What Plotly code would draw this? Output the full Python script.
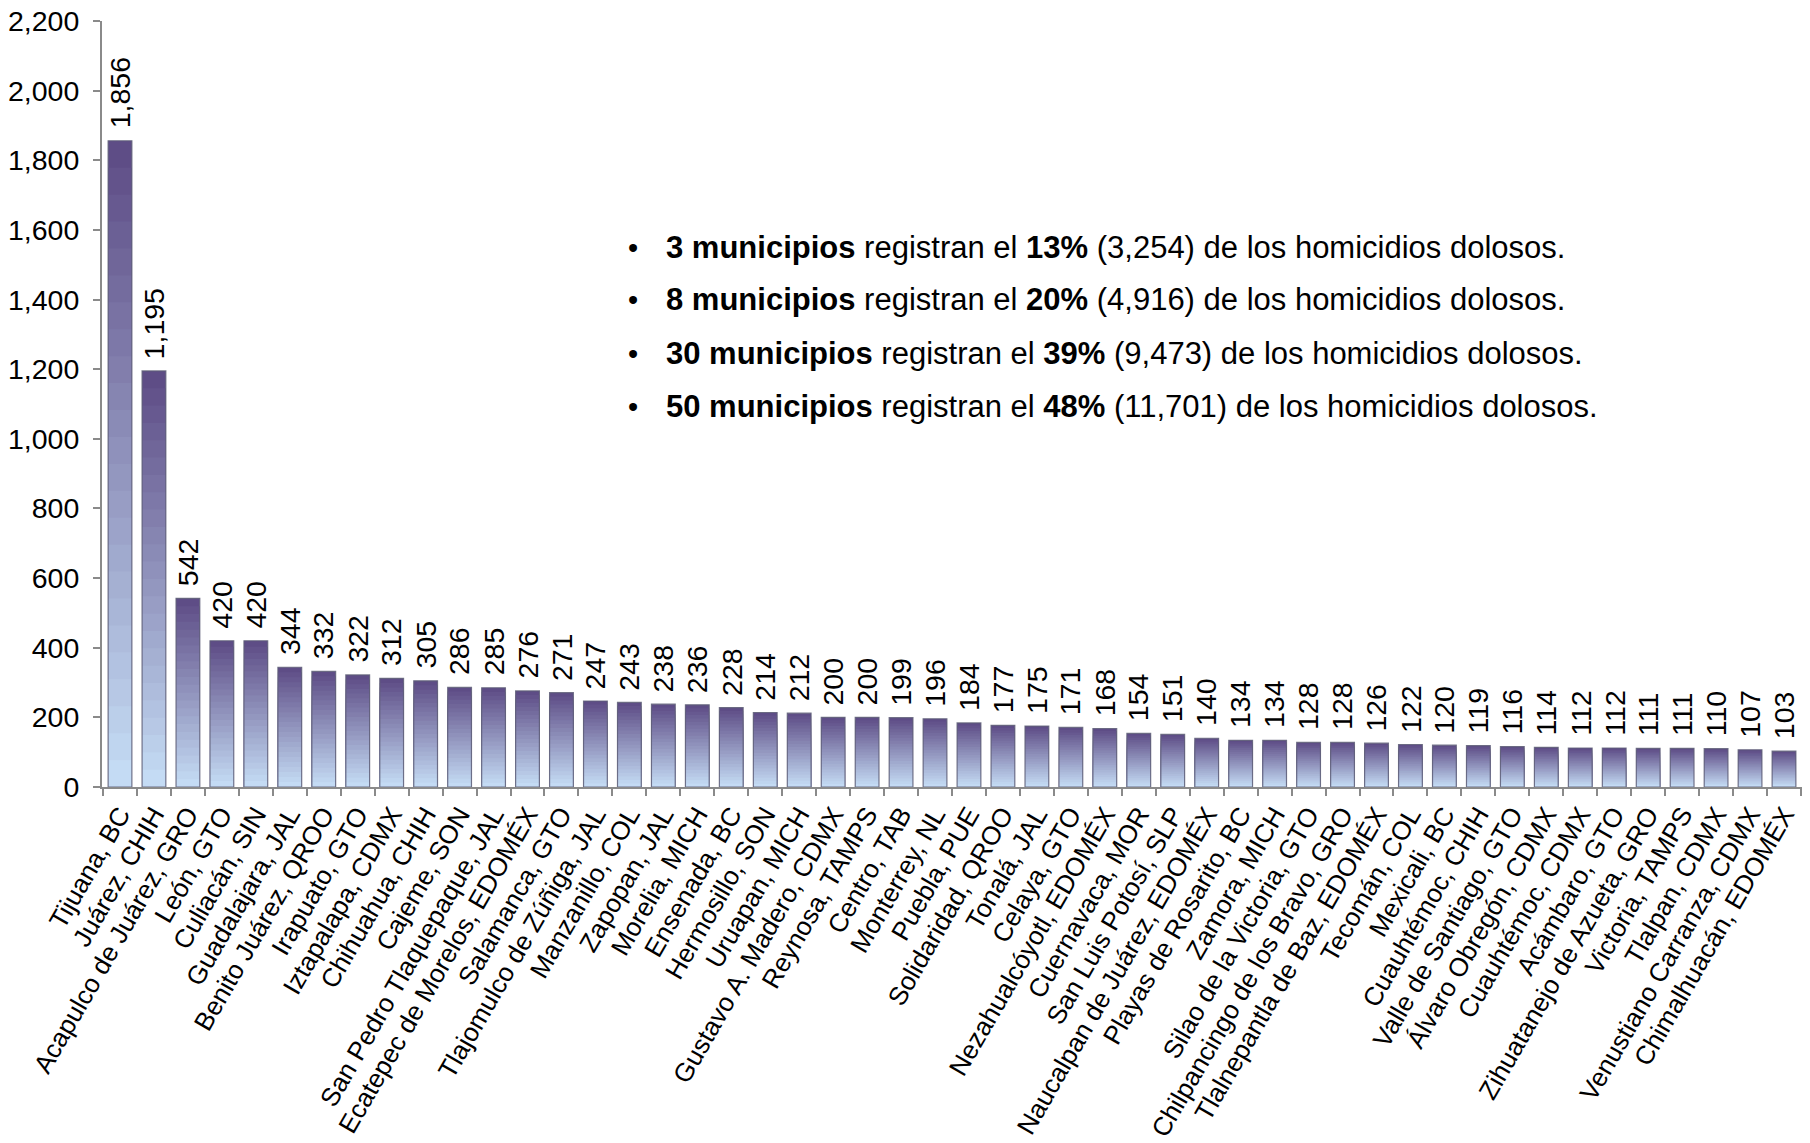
import plotly.graph_objects as go

municipios = [
    "Tijuana, BC", "Juárez, CHIH", "Acapulco de Juárez, GRO", "León, GTO", "Culiacán, SIN",
    "Guadalajara, JAL", "Benito Juárez, QROO", "Irapuato, GTO", "Iztapalapa, CDMX", "Chihuahua, CHIH",
    "Cajeme, SON", "San Pedro Tlaquepaque, JAL", "Ecatepec de Morelos, EDOMÉX", "Salamanca, GTO",
    "Tlajomulco de Zúñiga, JAL", "Manzanillo, COL", "Zapopan, JAL", "Morelia, MICH", "Ensenada, BC",
    "Hermosillo, SON", "Uruapan, MICH", "Gustavo A. Madero, CDMX", "Reynosa, TAMPS", "Centro, TAB",
    "Monterrey, NL", "Puebla, PUE", "Solidaridad, QROO", "Tonalá, JAL", "Celaya, GTO",
    "Nezahualcóyotl, EDOMÉX", "Cuernavaca, MOR", "San Luis Potosí, SLP", "Naucalpan de Juárez, EDOMÉX",
    "Playas de Rosarito, BC", "Zamora, MICH", "Silao de la Victoria, GTO", "Chilpancingo de los Bravo, GRO",
    "Tlalnepantla de Baz, EDOMÉX", "Tecomán, COL", "Mexicali, BC", "Cuauhtémoc, CHIH",
    "Valle de Santiago, GTO", "Álvaro Obregón, CDMX", "Cuauhtémoc, CDMX", "Acámbaro, GTO",
    "Zihuatanejo de Azueta, GRO", "Victoria, TAMPS", "Tlalpan, CDMX", "Venustiano Carranza, CDMX",
    "Chimalhuacán, EDOMÉX",
]

homicidios = [
    1856, 1195, 542, 420, 420, 344, 332, 322, 312, 305,
    286, 285, 276, 271, 247, 243, 238, 236, 228, 214,
    212, 200, 200, 199, 196, 184, 177, 175, 171, 168,
    154, 151, 140, 134, 134, 128, 128, 126, 122, 120,
    119, 116, 114, 112, 112, 111, 111, 110, 107, 103,
]

y_ticks = [0, 200, 400, 600, 800, 1000, 1200, 1400, 1600, 1800, 2000, 2200]

notas = [
    "<b>3 municipios</b> registran el <b>13%</b> (3,254) de los homicidios dolosos.",
    "<b>8 municipios</b> registran el <b>20%</b> (4,916) de los homicidios dolosos.",
    "<b>30 municipios</b> registran el <b>39%</b> (9,473) de los homicidios dolosos.",
    "<b>50 municipios</b> registran el <b>48%</b> (11,701) de los homicidios dolosos.",
]

FONT = "Liberation Sans, Arial, sans-serif"
TOP = (92, 74, 132)
BOTTOM = (198, 222, 246)
N_LAYERS = 24
BARGAP = 0.3

fig = go.Figure()

# Vertical gradient: overlaid bars, each a fraction of the data value
for k in range(N_LAYERS):
    frac = (N_LAYERS - k) / N_LAYERS
    t = (N_LAYERS - k - 0.5) / N_LAYERS
    c = tuple(round(BOTTOM[i] + (TOP[i] - BOTTOM[i]) * t) for i in range(3))
    fig.add_trace(go.Bar(
        x=municipios,
        y=[v * frac for v in homicidios],
        marker=dict(color=f"rgb{c}", line=dict(width=0)),
        hoverinfo="skip",
        showlegend=False,
    ))

# Outline
fig.add_trace(go.Bar(
    x=municipios,
    y=homicidios,
    marker=dict(color="rgba(0,0,0,0)", line=dict(color="rgba(95,95,120,0.85)", width=1.2)),
    showlegend=False,
))

# Data labels (rotated) above each bar
for m, v in zip(municipios, homicidios):
    fig.add_annotation(x=m, y=v, text=f"{v:,}", textangle=-90, showarrow=False,
                       xanchor="center", yanchor="bottom", yshift=10,
                       font=dict(family=FONT, size=28.5, color="#000000"))

for i, txt in enumerate(notas):
    ypos = [0.7037, 0.6358, 0.5653, 0.4961][i]
    fig.add_annotation(xref="paper", yref="paper", x=0.3121, y=ypos, text="•",
                       showarrow=False, xanchor="center", yanchor="middle",
                       font=dict(family=FONT, size=29, color="#000000"))
    fig.add_annotation(xref="paper", yref="paper", x=0.3306, y=ypos, text=txt,
                       showarrow=False, xanchor="left", yanchor="middle",
                       font=dict(family=FONT, size=31, color="#000000"))

fig.update_layout(
    width=1794, height=1127,
    barmode="overlay", bargap=BARGAP,
    plot_bgcolor="white", paper_bgcolor="white",
    margin=dict(l=94, r=0, t=13, b=348),
    font=dict(family=FONT, size=26, color="#000000"),
)
fig.update_xaxes(
    type="category", tickmode="linear", tick0=0, dtick=1,
    tickangle=-60, tickson="boundaries",
    ticks="outside", ticklen=7, tickwidth=2, tickcolor="#8a8a8a",
    showline=True, linecolor="#8a8a8a", linewidth=2,
    showgrid=False, automargin=False,
    tickfont=dict(family=FONT, size=26, color="#000000"),
)
fig.update_yaxes(
    range=[0, 2200], tickvals=y_ticks, tickformat=",",
    ticks="outside", ticklen=7, tickwidth=2, tickcolor="#8a8a8a",
    showline=True, linecolor="#8a8a8a", linewidth=2,
    showgrid=False, zeroline=False, automargin=False,
    ticklabelstandoff=8, ticklabeloverflow="allow",
    tickfont=dict(family=FONT, size=28.5, color="#000000"),
)

fig.write_html("out.html")
